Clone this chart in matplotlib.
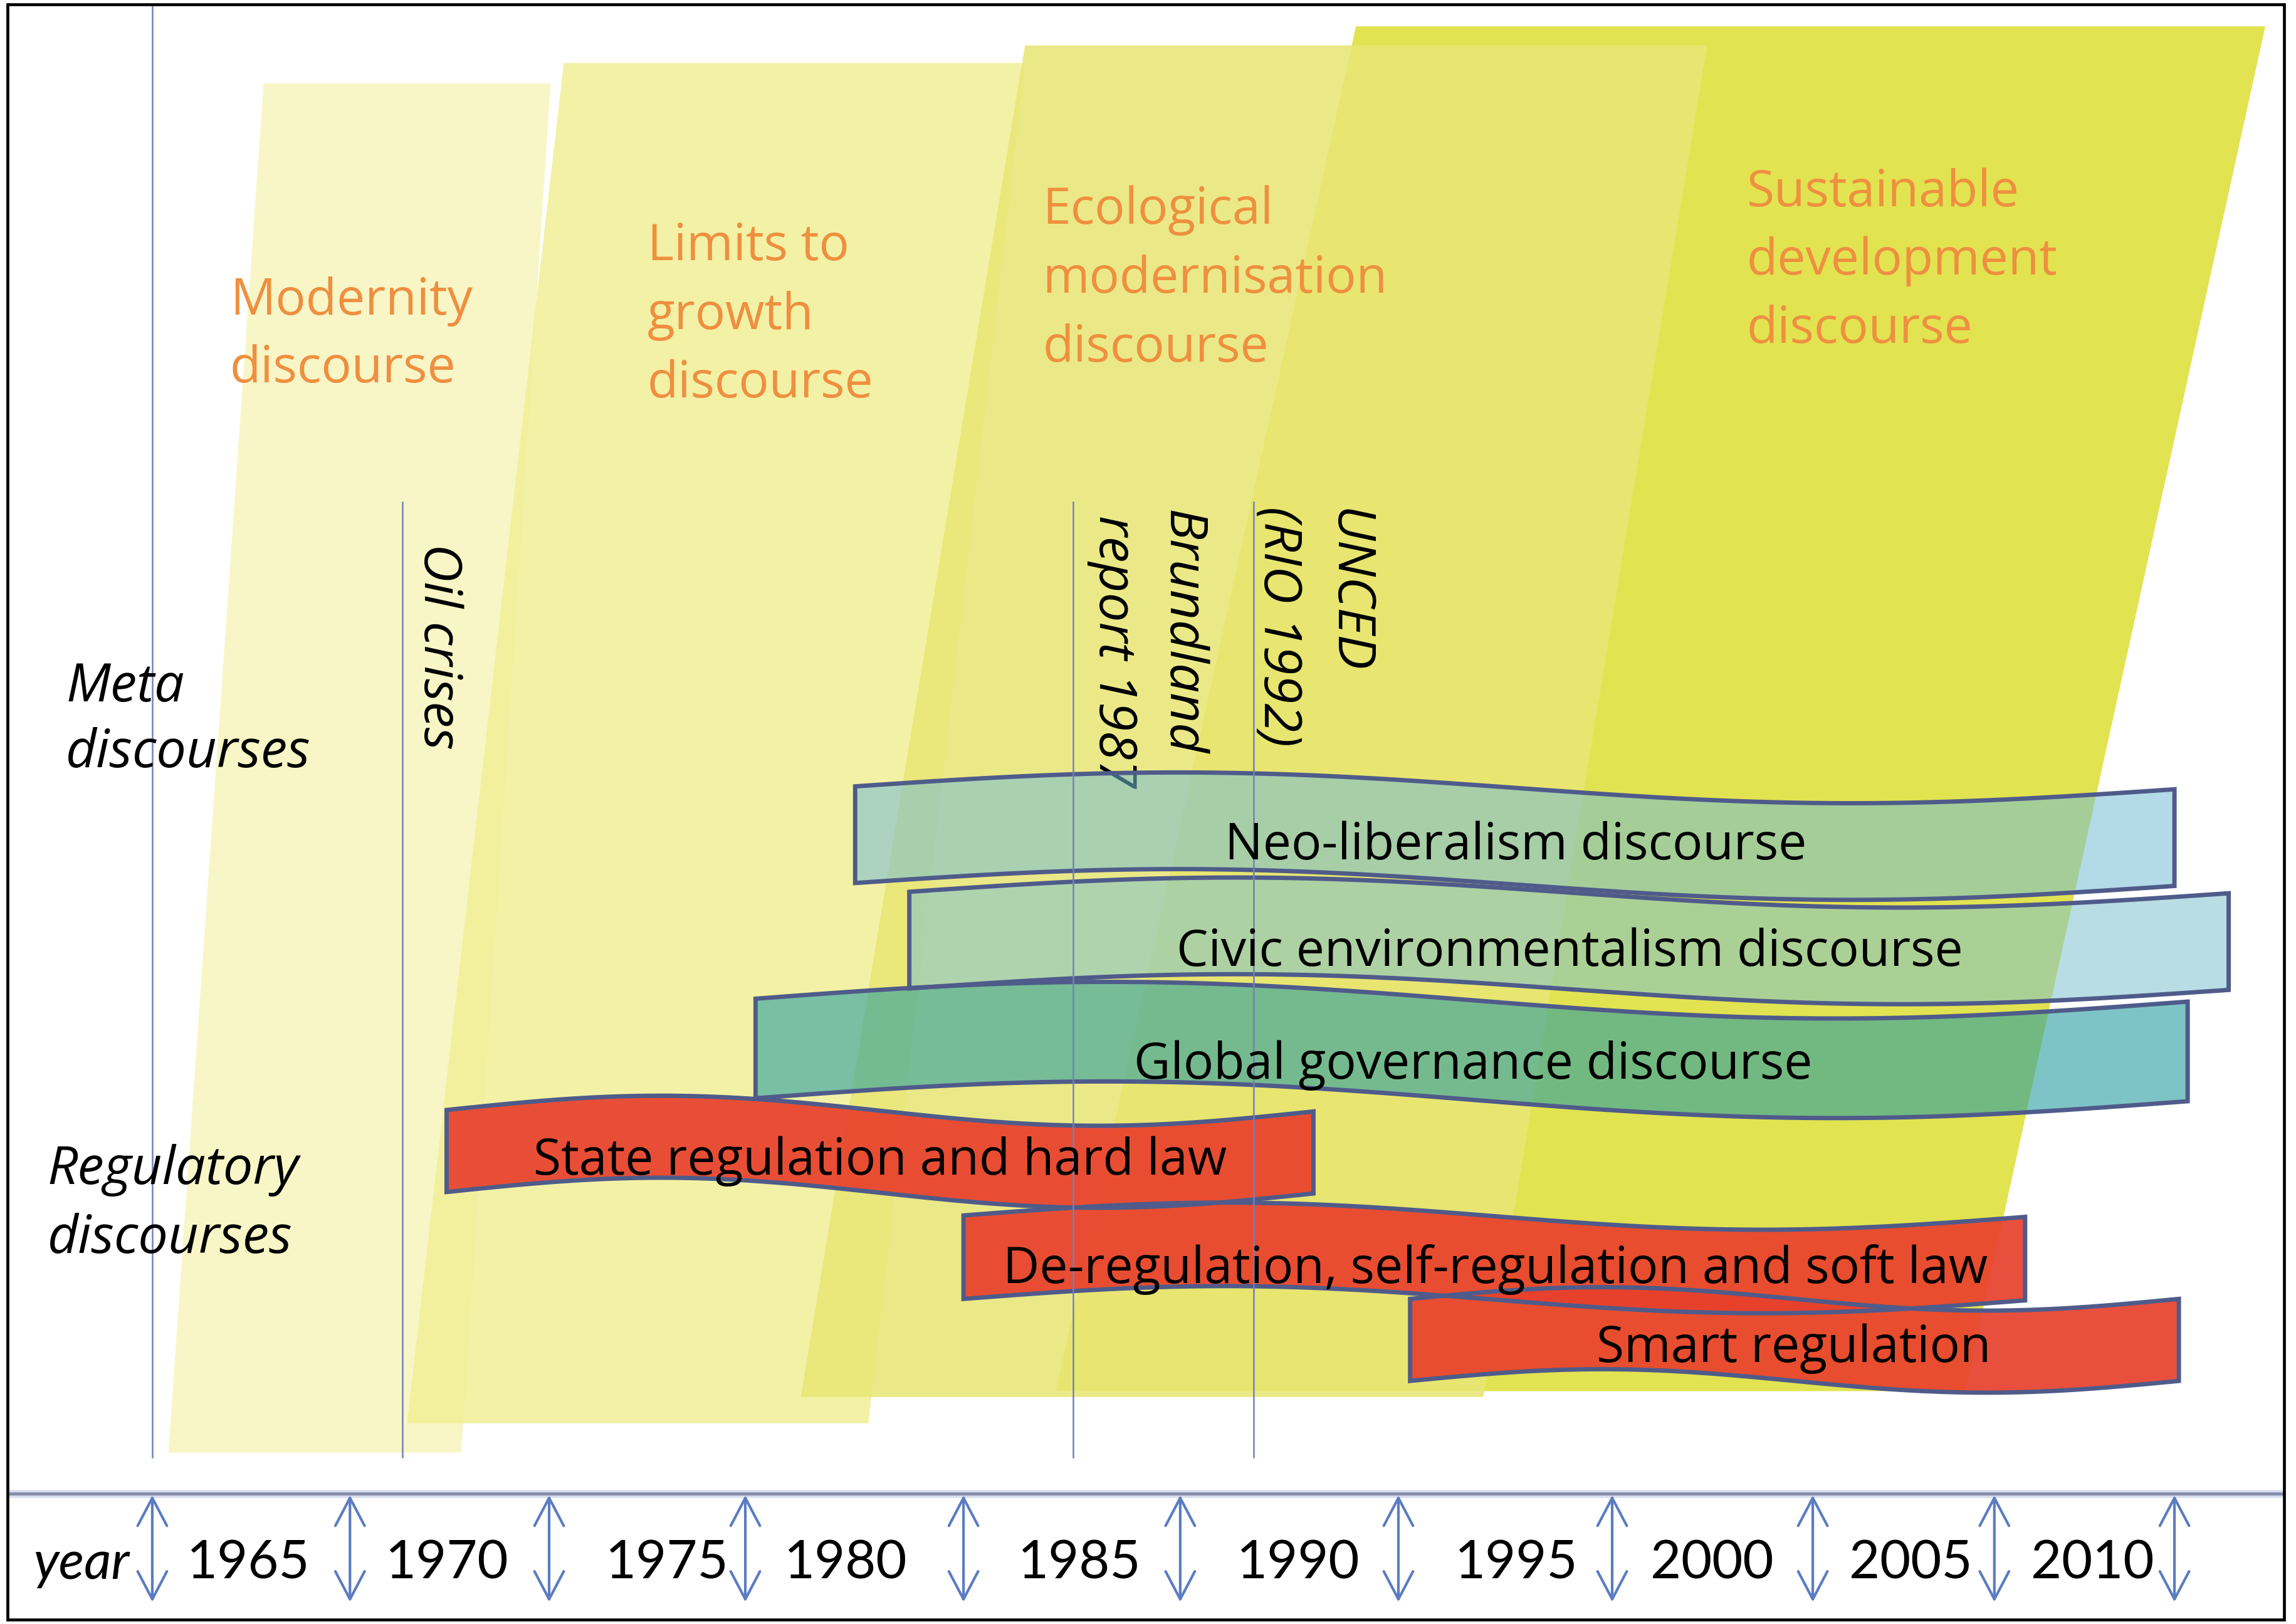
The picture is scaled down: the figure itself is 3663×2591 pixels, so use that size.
import numpy as np
import matplotlib
matplotlib.use("Agg")
import matplotlib.pyplot as plt
from matplotlib.patches import Polygon, Rectangle, FancyArrowPatch

plt.rcParams['font.family'] = ['Open Sans', 'DejaVu Sans']

# ---------------- data (text content) ----------------
years = [1965, 1970, 1975, 1980, 1985, 1990, 1995, 2000, 2005, 2010]
meta_discourses = [["Modernity", "discourse"],
                   ["Limits to", "growth", "discourse"],
                   ["Ecological", "modernisation", "discourse"],
                   ["Sustainable", "development", "discourse"]]
band_names = ["Neo-liberalism discourse",
              "Civic environmentalism discourse",
              "Global governance discourse",
              "State regulation and hard law",
              "De-regulation, self-regulation and soft law",
              "Smart regulation"]
band_group = ["meta", "meta", "meta", "reg", "reg", "reg"]
events = [["Oil crises"], ["Brundland", "report 1987"], ["UNCED", "(RIO 1992)"]]
side_labels = [["Meta", "discourses"], ["Regulatory", "discourses"]]
axis_title = "year"

# ---------------- layout (canvas units, y downwards) ----------------
W, H = 1568, 1109
arrow_x = [104, 239, 375, 509, 658, 806, 955, 1101, 1238, 1362, 1485]
year_x = [169, 305, 455, 577, 737, 886, 1035, 1169, 1305, 1429]
axis_y, arrow_top, arrow_bot, year_base = 1020, 1021, 1094, 1078

# parallelograms: top_y, top_xl, top_xr, bot_y, bot_xl, bot_xr
para_geom = [(57, 180, 376, 992, 115, 315),
             (43, 385, 700, 972, 278, 593),
             (31, 700, 1166, 954, 547, 1013),
             (18, 926, 1547, 950, 721, 1342)]
para_color = ['#f8f6c6', '#f1ef95', '#e9e675', '#e2e350']
para_alpha = [1.0, 0.85, 0.87, 1.0]
para_z = [1, 2, 4, 3]
meta_text_pos = [(157, 215, 46), (442, 177.5, 47), (712, 153, 47), (1193, 141, 46.5)]

# bands: xl, xr, y_top_left, y_top_right, amplitude, height
band_geom = [(584, 1485, 537, 539, 10, 66),
             (621, 1522, 609, 610, 10, 66),
             (516, 1494, 682, 684, 12, 68),
             (305, 897, 758, 759, 10, 56),
             (658, 1383, 830, 831, 9, 57),
             (963, 1488, 887, 887, 8, 56)]
band_face = ['#73bcd5', '#7ec2ce', '#289ea3', '#e8402c', '#e8402c', '#e8402c']
band_alpha = [0.55, 0.55, 0.6, 0.92, 0.92, 0.92]
band_text_pos = [(1035, 587), (1072, 659.5), (1006, 736.5),
                 (601, 802), (1021, 876), (1225, 930)]

event_line_x = [275, 733, 856]
event_line_top, event_line_bot = 343, 995
event_text_pos = [[(290, 371)], [(797.6, 348), (751, 352)], [(911, 347), (863.6, 346)]]
side_text_pos = [(45, 479, 45), (32.5, 808.6, 47)]

ORANGE = '#ef8f40'
EDGE = '#4f5b8a'
LINEC = '#7282b8'
ARROWC = '#5b7cc2'
FS = 58

fig = plt.figure(figsize=(36.63, 25.91), dpi=100)
ax = fig.add_axes([0, 0, 1, 1])
ax.set_xlim(0, W)
ax.set_ylim(H, 0)
ax.axis('off')

# meta discourse parallelograms
for g, c, a, z in zip(para_geom, para_color, para_alpha, para_z):
    ty, txl, txr, by, bxl, bxr = g
    ax.add_patch(Polygon([(txl, ty), (txr, ty), (bxr, by), (bxl, by)], closed=True,
                         facecolor=c, alpha=a, edgecolor='none', zorder=z))

for lines, (x0, y0, dy) in zip(meta_discourses, meta_text_pos):
    for i, s in enumerate(lines):
        ax.text(x0, y0 + i * dy, s, color=ORANGE, fontsize=FS, ha='left',
                va='baseline', zorder=5)

# side labels
for lines, (x0, y0, dy) in zip(side_labels, side_text_pos):
    for i, s in enumerate(lines):
        ax.text(x0, y0 + i * dy, s, color='black', fontsize=61, style='italic',
                ha='left', va='baseline', zorder=12)

# event texts
for lines, poss in zip(events, event_text_pos):
    for s, (x0, y0) in zip(lines, poss):
        ax.text(x0, y0, s, color='black', fontsize=60, style='italic', rotation=-90,
                rotation_mode='anchor', ha='left', va='baseline', zorder=6)

# wave bands
t = np.linspace(0, 1, 300)
for g, fc, a in zip(band_geom, band_face, band_alpha):
    xl, xr, yl, yr, A, h = g
    x = xl + (xr - xl) * t
    top = yl + (yr - yl) * t - A * np.sin(2 * np.pi * t)
    bot = top + h
    verts = np.concatenate([np.column_stack([x, top]),
                            np.column_stack([x[::-1], bot[::-1]])])
    ax.add_patch(Polygon(verts, closed=True, facecolor=fc, alpha=a,
                         edgecolor='none', zorder=7))
    ax.add_patch(Polygon(verts, closed=True, facecolor='none', edgecolor=EDGE,
                         lw=5, joinstyle='miter', zorder=7.5))

for s, (x0, y0) in zip(band_names, band_text_pos):
    ax.text(x0, y0, s, color='black', fontsize=FS, ha='center', va='baseline', zorder=9)

# vertical guide lines
ax.plot([arrow_x[0], arrow_x[0]], [3, event_line_bot], color=LINEC, lw=1.8, zorder=8)
for lx in event_line_x:
    ax.plot([lx, lx], [event_line_top, event_line_bot], color=LINEC, lw=1.8, zorder=8)

# time axis
ax.plot([5, 1560], [axis_y, axis_y], color='#d8dcef', lw=9, zorder=10, solid_capstyle='butt')
ax.plot([5, 1560], [axis_y, axis_y], color='#858ca8', lw=3.5, zorder=10.5, solid_capstyle='butt')
for xa in arrow_x:
    ax.add_patch(FancyArrowPatch((xa, arrow_top), (xa, arrow_bot),
                                 arrowstyle='<->,head_length=0.8,head_width=0.42',
                                 mutation_scale=40, color=ARROWC, lw=3,
                                 shrinkA=0, shrinkB=0, zorder=11))
for yv, xv in zip(years, year_x):
    ax.text(xv, year_base, str(yv), color='black', fontsize=61, ha='center',
            va='baseline', zorder=12, family=['Lato', 'DejaVu Sans'])
ax.text(56, year_base, axis_title, color='black', fontsize=61, style='italic',
        ha='center', va='baseline', zorder=12, family=['Lato', 'DejaVu Sans'])

# outer frame
ax.add_patch(Rectangle((5, 3), 1555, 1103, facecolor='none', edgecolor='black',
                       lw=3.4, zorder=20))

fig.savefig('out.png', dpi=100)
